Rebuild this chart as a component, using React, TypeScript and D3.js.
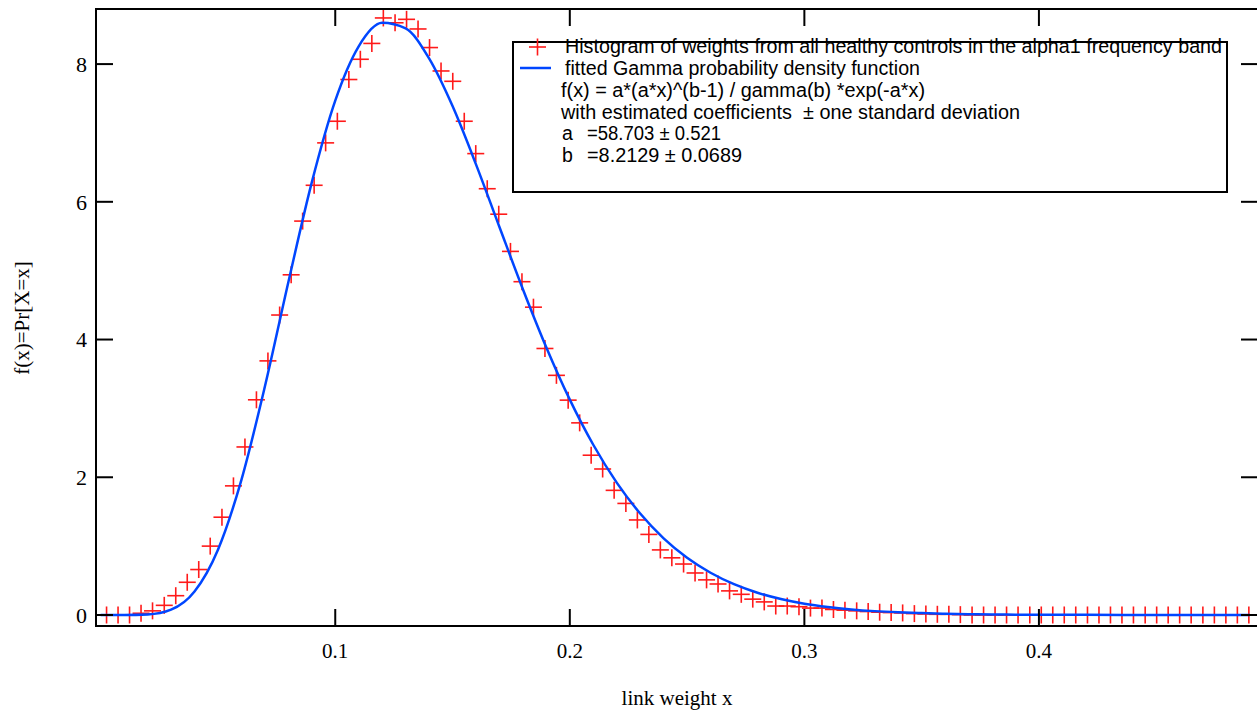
import React from "react";
import * as d3 from "d3";

// histogram of link weights (bin centres and density values)
const binCenters = [
  0.0025, 0.0074, 0.0123, 0.0172, 0.0221, 0.0271, 0.032, 0.0369, 0.0418, 0.0467,
  0.0517, 0.0566, 0.0615, 0.0664, 0.0713, 0.0763, 0.0812, 0.0861, 0.091, 0.0959,
  0.1009, 0.1058, 0.1107, 0.1156, 0.1205, 0.1255, 0.1304, 0.1353, 0.1402, 0.1451,
  0.1501, 0.155, 0.1599, 0.1648, 0.1697, 0.1747, 0.1796, 0.1845, 0.1894, 0.1943,
  0.1993, 0.2042, 0.2091, 0.214, 0.2189, 0.2239, 0.2288, 0.2337, 0.2386, 0.2435,
  0.2485, 0.2534, 0.2583, 0.2632, 0.2681, 0.2731, 0.278, 0.2829, 0.2878, 0.2927,
  0.2977, 0.3026, 0.3075, 0.3124, 0.3173, 0.3223, 0.3272, 0.3321, 0.337, 0.3419,
  0.3469, 0.3518, 0.3567, 0.3616, 0.3665, 0.3715, 0.3764, 0.3813, 0.3862, 0.3911,
  0.3961, 0.401, 0.4059, 0.4108, 0.4157, 0.4207, 0.4256, 0.4305, 0.4354, 0.4403,
  0.4453, 0.4502, 0.4551, 0.46, 0.4649, 0.4699, 0.4748, 0.4797, 0.4846, 0.4895,
];
const histDensity = [
  0, 0, 0, 0.025, 0.06, 0.14, 0.28, 0.475, 0.66, 1.0,
  1.42, 1.875, 2.44, 3.125, 3.69, 4.356, 4.94, 5.72, 6.24, 6.856,
  7.17, 7.776, 8.07, 8.3, 8.67, 8.6, 8.65, 8.51, 8.24, 7.9,
  7.75, 7.17, 6.7, 6.19, 5.82, 5.28, 4.84, 4.47, 3.87, 3.48,
  3.12, 2.79, 2.32, 2.12, 1.81, 1.62, 1.38, 1.17, 0.945, 0.83,
  0.74, 0.61, 0.51, 0.45, 0.35, 0.3, 0.23, 0.19, 0.13, 0.13,
  0.12, 0.1, 0.1, 0.08, 0.07, 0.06, 0.05, 0.04, 0.035, 0.03,
  0.02, 0.015, 0.01, 0.01, 0.005, 0, 0, 0, 0, 0,
  0, 0, 0, 0, 0, 0, 0, 0, 0, 0,
  0, 0, 0, 0, 0, 0, 0, 0, 0, 0,
];

// fitted gamma pdf, sampled
const fitX = [
  0, 0.01, 0.02, 0.03, 0.04, 0.05, 0.06, 0.07, 0.08, 0.09,
  0.1, 0.11, 0.12, 0.13, 0.14, 0.15, 0.16, 0.17, 0.18, 0.19,
  0.2, 0.21, 0.22, 0.23, 0.24, 0.25, 0.26, 0.27, 0.28, 0.29,
  0.3, 0.31, 0.32, 0.33, 0.34, 0.35, 0.36, 0.37, 0.38, 0.39,
  0.4, 0.42, 0.45, 0.49,
];
const fitY = [
  0, 0.0001, 0.0074, 0.077, 0.341, 0.948, 1.963, 3.317, 4.832, 6.282,
  7.469, 8.258, 8.599, 8.517, 8.082, 7.39, 6.544, 5.634, 4.731, 3.885,
  3.127, 2.472, 1.922, 1.473, 1.113, 0.831, 0.613, 0.447, 0.323, 0.232,
  0.164, 0.116, 0.081, 0.056, 0.039, 0.027, 0.018, 0.012, 0.008, 0.005,
  0.004, 0.002, 0.001, 0,
];

const xTicks = [0.1, 0.2, 0.3, 0.4];
const yTicks = [0, 2, 4, 6, 8];

const legendSeries = [
  "Histogram of weights from all healthy controls in the alpha1 frequency band",
  "fitted Gamma probability density function",
];
const legendNotes = [
  "f(x) = a*(a*x)^(b-1) / gamma(b) *exp(-a*x)",
  "with estimated coefficients  \u00b1 one standard deviation",
];
const coefNames = ["a", "b"];
const coefValues = ["=58.703 \u00b1 0.521", "=8.2129 \u00b1 0.0689"];

const W = 1257;
const H = 715;
const left = 96;
const right = 1258;
const top = 9;
const bottom = 626;
const tickLen = 17;

// measured text widths in the legend
const seriesWidths = [657, 355];
const noteWidths = [364, 459];
const coefWidths = [134, 155];

const serif = "'Liberation Serif', 'Times New Roman', serif";
const sans = "'Liberation Sans', Arial, sans-serif";

export default function App() {
  const x = d3.scaleLinear().domain([-0.002, 0.4934]).range([left, right]);
  const y = d3.scaleLinear().domain([-0.16, 8.8]).range([bottom, top]);

  const fitLine = d3
    .line<number>()
    .x((_, i) => x(fitX[i]))
    .y((d) => y(d))
    .curve(d3.curveMonotoneX)(fitY);

  const m = 8.5; // half size of the + markers

  return (
    <svg
      width={W}
      height={H}
      style={{ position: "fixed", left: 0, top: 0, background: "#fff" }}
    >
      <rect width={W} height={H} fill="#fff" />

      {/* histogram markers */}
      <g stroke="#ff1a1a" strokeWidth={1.6}>
        {histDensity.map((v, i) => {
          const cx = x(binCenters[i]);
          const cy = y(v);
          return (
            <g key={i}>
              <line x1={cx - m} x2={cx + m} y1={cy} y2={cy} />
              <line x1={cx} x2={cx} y1={cy - m} y2={cy + m} />
            </g>
          );
        })}
      </g>

      {/* fitted curve */}
      <path d={fitLine ?? ""} fill="none" stroke="#0046ff" strokeWidth={2.5} />

      {/* frame */}
      <g stroke="#000" strokeWidth={2} fill="none">
        <line x1={left} x2={right} y1={top} y2={top} />
        <line x1={left} x2={right} y1={bottom} y2={bottom} />
        <line x1={left} x2={left} y1={top - 1} y2={bottom + 1} />
        <line x1={right} x2={right} y1={top - 1} y2={bottom + 1} />
      </g>

      {/* ticks */}
      <g stroke="#000" strokeWidth={2}>
        {xTicks.map((t) => (
          <g key={"x" + t}>
            <line x1={x(t)} x2={x(t)} y1={bottom} y2={bottom - tickLen} />
            <line x1={x(t)} x2={x(t)} y1={top} y2={top + tickLen} />
          </g>
        ))}
        {yTicks.map((t) => (
          <g key={"y" + t}>
            <line x1={left} x2={left + tickLen} y1={y(t)} y2={y(t)} />
            <line x1={right} x2={right - tickLen} y1={y(t)} y2={y(t)} />
          </g>
        ))}
      </g>

      {/* tick labels */}
      <g fontFamily={serif} fontSize={21} fill="#000">
        {xTicks.map((t) => (
          <text key={"xl" + t} x={x(t)} y={658} textAnchor="middle">
            {d3.format(".1f")(t)}
          </text>
        ))}
        {yTicks.map((t) => (
          <text key={"yl" + t} x={87} y={y(t)} dy="0.35em" textAnchor="end" fontSize={22}>
            {t}
          </text>
        ))}
      </g>

      {/* axis titles */}
      <text x={677} y={705} textAnchor="middle" fontFamily={serif} fontSize={21}>
        link weight x
      </text>
      <text
        transform="translate(29,318) rotate(-90)"
        textAnchor="middle"
        fontFamily={serif}
        fontSize={21}
      >
        f(x)=Pr[X=x]
      </text>

      {/* legend */}
      <rect x={513} y={42} width={714} height={150} fill="#fff" stroke="#000" strokeWidth={2} />
      <line x1={529} x2={546} y1={47} y2={47} stroke="#ff1a1a" strokeWidth={1.6} />
      <line x1={537.5} x2={537.5} y1={38.5} y2={55.5} stroke="#ff1a1a" strokeWidth={1.6} />
      <line x1={520} x2={551} y1={68} y2={68} stroke="#0046ff" strokeWidth={2.5} />
      <g fontFamily={sans} fontSize={19.5} fill="#000">
        {legendSeries.map((s, i) => (
          <text
            key={s}
            x={565}
            y={53 + i * 22}
            textLength={seriesWidths[i]}
            lengthAdjust="spacingAndGlyphs"
            xmlSpace="preserve"
          >
            {s}
          </text>
        ))}
        {legendNotes.map((s, i) => (
          <text
            key={s}
            x={561}
            y={97 + i * 22}
            textLength={noteWidths[i]}
            lengthAdjust="spacingAndGlyphs"
            xmlSpace="preserve"
          >
            {s}
          </text>
        ))}
        {coefNames.map((s, i) => (
          <g key={s}>
            <text x={562} y={140 + i * 22}>
              {s}
            </text>
            <text
              x={587}
              y={140 + i * 22}
              textLength={coefWidths[i]}
              lengthAdjust="spacingAndGlyphs"
            >
              {coefValues[i]}
            </text>
          </g>
        ))}
      </g>
    </svg>
  );
}
